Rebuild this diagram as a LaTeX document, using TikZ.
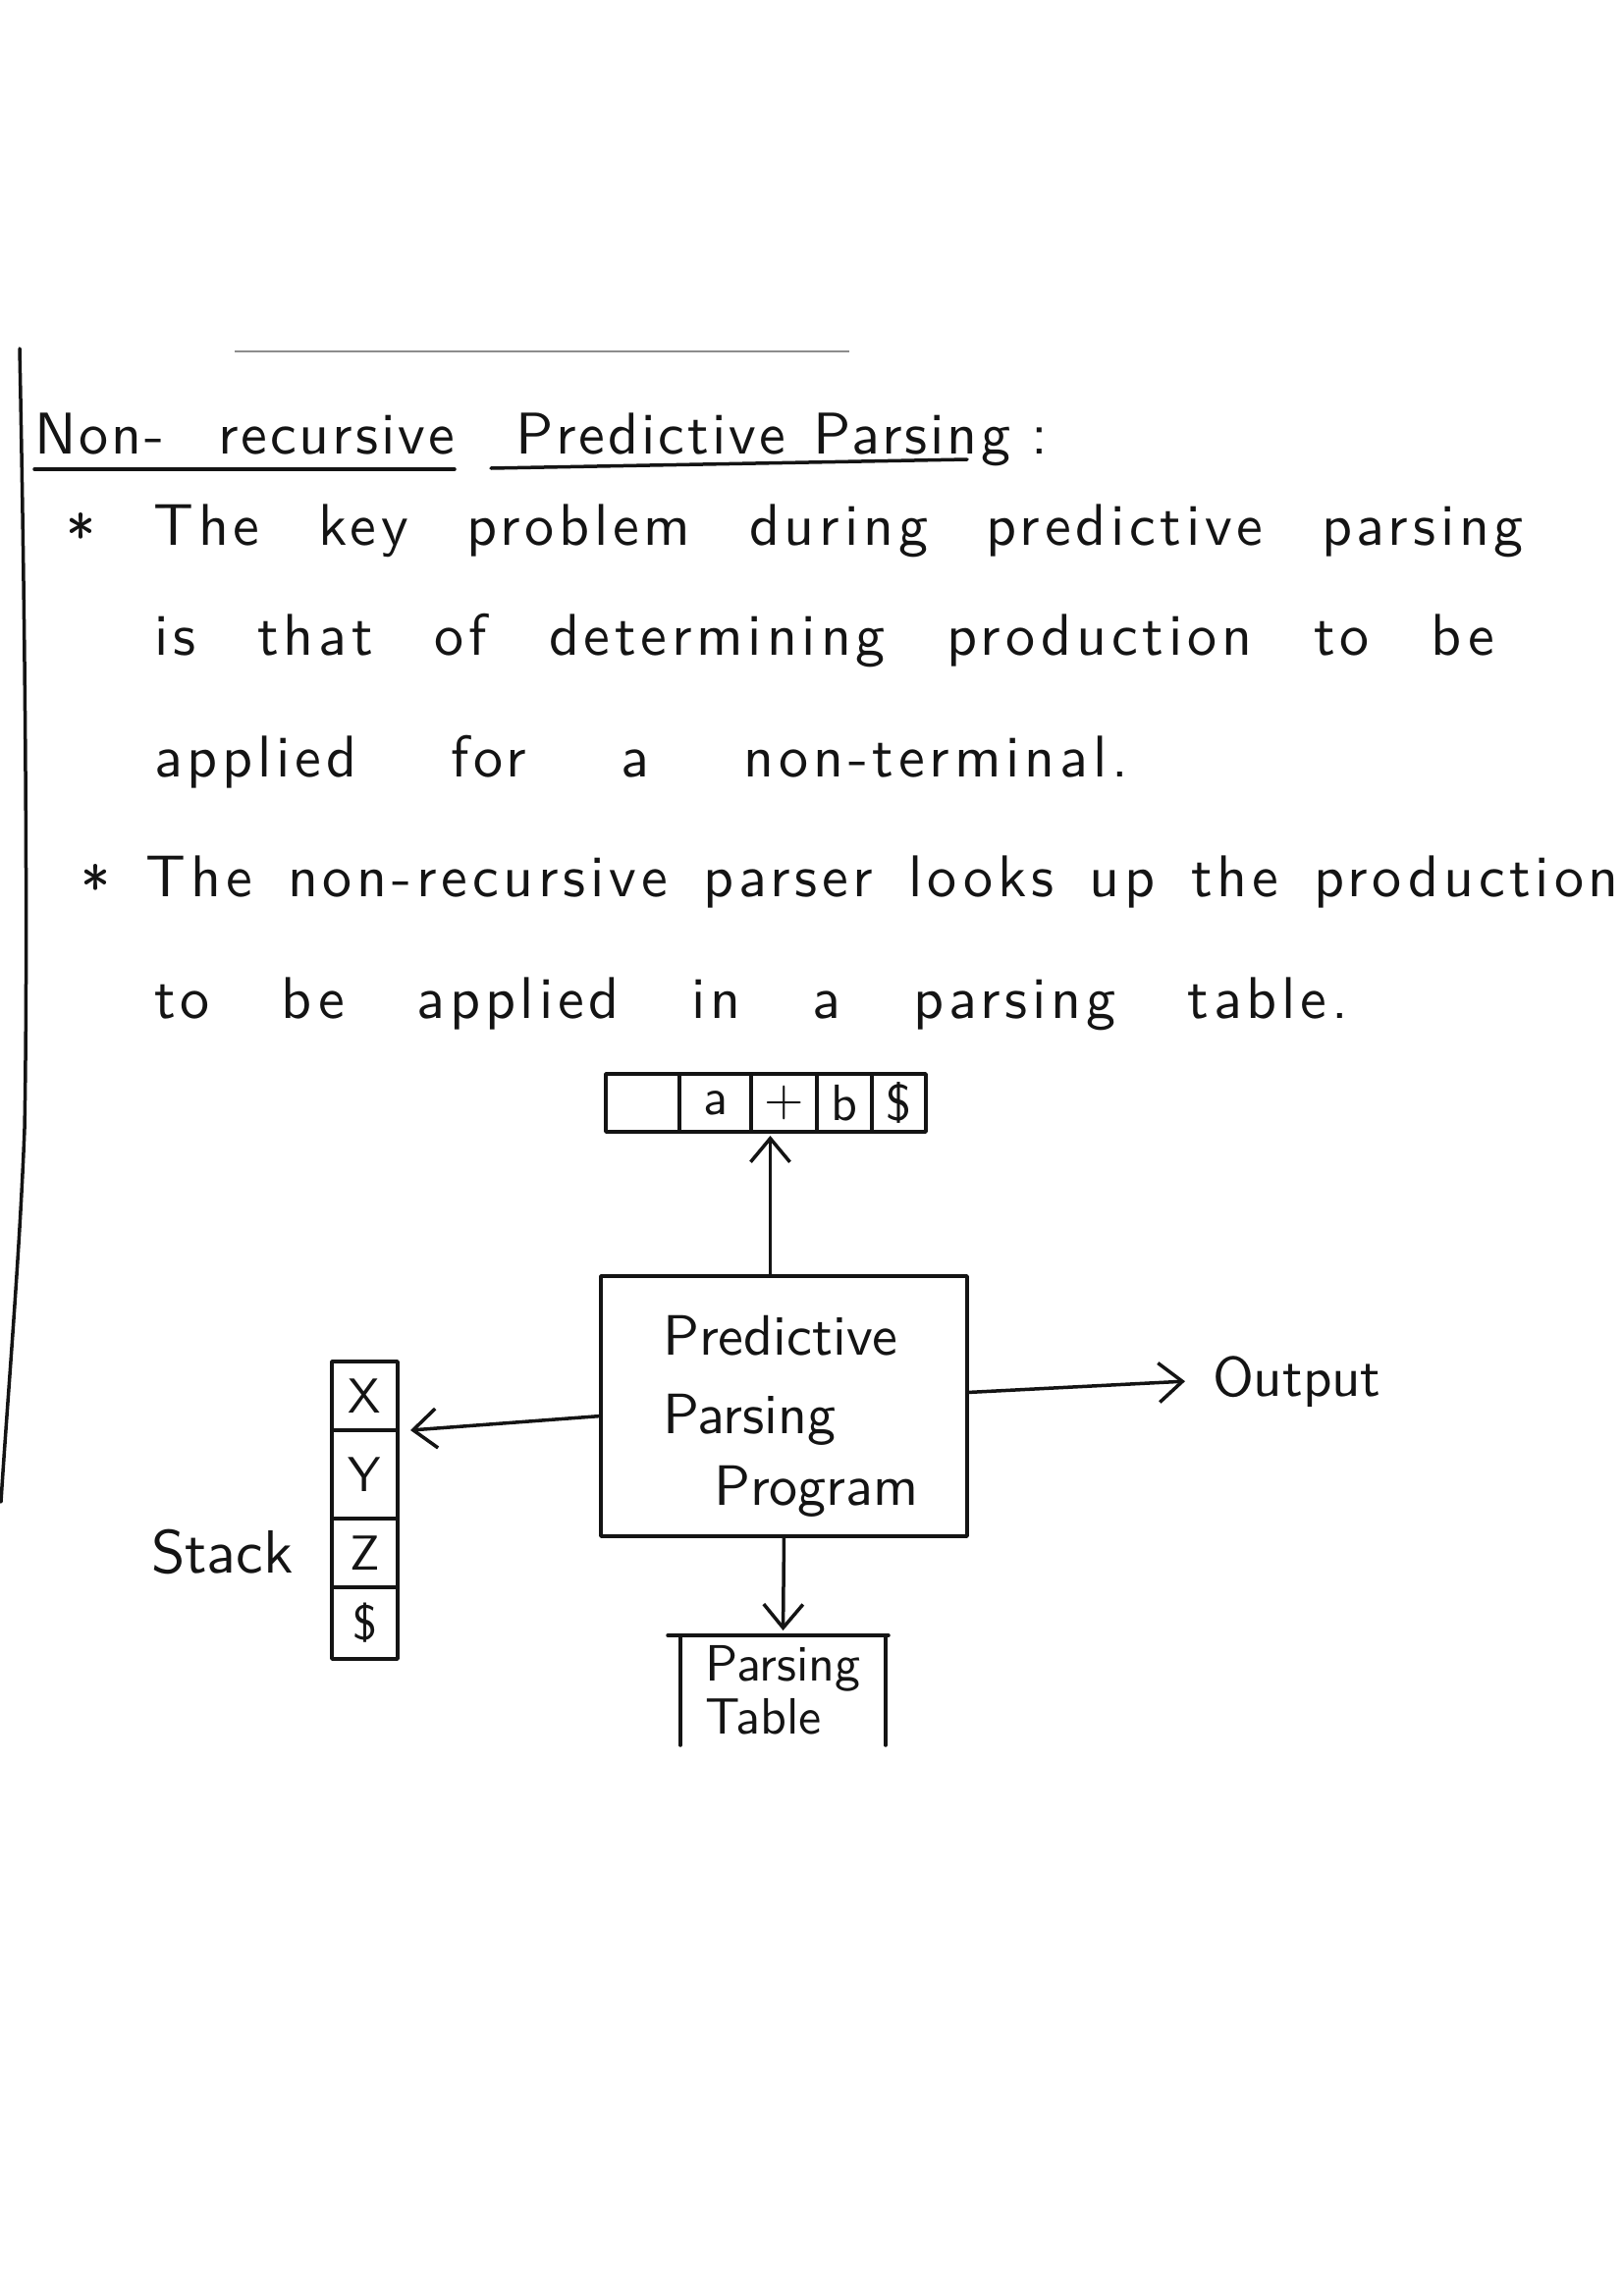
\documentclass[tikz,border=0pt]{standalone}
\usepackage{fontspec}
\usetikzlibrary{arrows.meta}
\newfontfamily\handfont{lmsans10-regular.otf}[LetterSpace=8]
\newfontfamily\headfont{lmsans10-regular.otf}[LetterSpace=5]
\newfontfamily\labelfont{lmsans10-regular.otf}
\newcommand{\spreadline}[2]{\makebox[#1][s]{#2}}
\definecolor{ink}{HTML}{141414}
\begin{document}
\begin{tikzpicture}[x=1pt,y=-1pt,
  every node/.style={inner sep=0pt, outer sep=0pt, text=ink},
  pen/.style={draw=ink, line width=3.5pt, line cap=round, line join=round},
  arr/.style={pen, -{Straight Barb[length=24pt,width=40pt,line width=3.5pt]}},
  titletext/.style={anchor=base west, font=\headfont\fontsize{60}{66}\selectfont},
  bodytext/.style={anchor=base west, font=\handfont\fontsize{60}{66}\selectfont},
  boxtext/.style={anchor=base west, font=\labelfont\fontsize{58}{64}\selectfont},
  tapecell/.style={pen, minimum height=59pt, font=\labelfont\fontsize{52}{52}\selectfont},
  stackcell/.style={pen, minimum width=67pt, font=\labelfont\fontsize{50}{50}\selectfont}]
\useasboundingbox[fill=white] (0,0) rectangle (1653,2339);

% page rules
\draw[draw=black!45, line width=2.2pt] (239,358) -- (865,358);
\draw[pen] (20,355) .. controls (27,700) and (28,1000) .. (25,1150)
           .. controls (20,1280) and (8,1420) .. (1,1530);

% heading
\node[titletext] (tnon) at (35,462) {\spreadline{428pt}{Non- recursive}};
\node[titletext] (tpp) at (525,462) {\spreadline{504pt}{Predictive Parsing}};
\node[titletext] (tcol) at (1050,462) {:};
\draw[pen] ([yshift=-16pt]tnon.base west) -- ([yshift=-16pt]tnon.base east);
\draw[pen] ([xshift=-25pt,yshift=-15pt]tpp.base west) -- ([xshift=-44pt,yshift=-6pt]tpp.base east);

% body text
\node[bodytext] (l1) at (67,555) {\spreadline{1485pt}{\raisebox{-0.2em}{*} The key problem during predictive parsing}};
\node[bodytext] (l2) at (157,667) {\spreadline{1365pt}{is that of determining production to be}};
\node[bodytext] (l3) at (157,791) {\spreadline{992pt}{applied for a non-terminal.}};
\node[bodytext] (l4) at (82,913) {\spreadline{1567pt}{\raisebox{-0.2em}{*} The non-recursive parser looks up the production}};
\node[bodytext] (l5) at (157,1037) {\spreadline{1216pt}{to be applied in a parsing table.}};

% input buffer
\node[tapecell, minimum width=75pt] (tape0) at (654.5,1123.5) {};
\node[tapecell, minimum width=73pt] (tape1) at (728.5,1123.5) {a};
\node[tapecell, minimum width=67pt] (tape2) at (798.5,1123.5) {+};
\node[tapecell, minimum width=56pt] (tape3) at (860,1123.5) {b};
\node[tapecell, minimum width=55pt] (tape4) at (915.5,1123.5) {\$};

% parsing program
\node[pen, minimum width=373pt, minimum height=265pt] (box) at (798.5,1432.5) {};
\node[boxtext] (p1) at (675,1380) {Predictive};
\node[boxtext] (p2) at (675,1460) {Parsing};
\node[boxtext] (p3) at (727,1533) {Program};

% stack
\node[stackcell, minimum height=70pt] (sX) at (371.5,1422) {X};
\node[stackcell, minimum height=90pt] (sY) at (371.5,1502) {Y};
\node[stackcell, minimum height=70pt] (sZ) at (371.5,1582) {Z};
\node[stackcell, minimum height=73pt] (sD) at (371.5,1653.5) {\$};
\node[anchor=base west, font=\labelfont\fontsize{62}{62}\selectfont] (stk) at (154,1602) {Stack};

% output
\node[anchor=base west, font=\labelfont\fontsize{57}{57}\selectfont] (outp) at (1235,1422) {Output};

% parsing table
\node[minimum width=209pt, minimum height=112pt, align=left,
      font=\labelfont\fontsize{52}{54}\selectfont] (tab) at (797.5,1722) {Parsing\\Table};
\draw[pen] ([xshift=-13pt]tab.north west) -- ([xshift=3pt]tab.north east);
\draw[pen] (tab.north west) -- (tab.south west);
\draw[pen] (tab.north east) -- (tab.south east);

% connectors
\draw[arr, shorten >=4pt] ([xshift=-14pt]box.north) -- ([xshift=-14pt]tape2.south);
\draw[arr] ([yshift=-10pt]box.west) -- ([xshift=13pt]sX.south east);
\draw[arr] ([yshift=14pt]box.east) -- ([xshift=-28pt]outp.west);
\draw[arr, shorten >=5pt] (box.south) -- (tab.north);
\end{tikzpicture}
\end{document}
